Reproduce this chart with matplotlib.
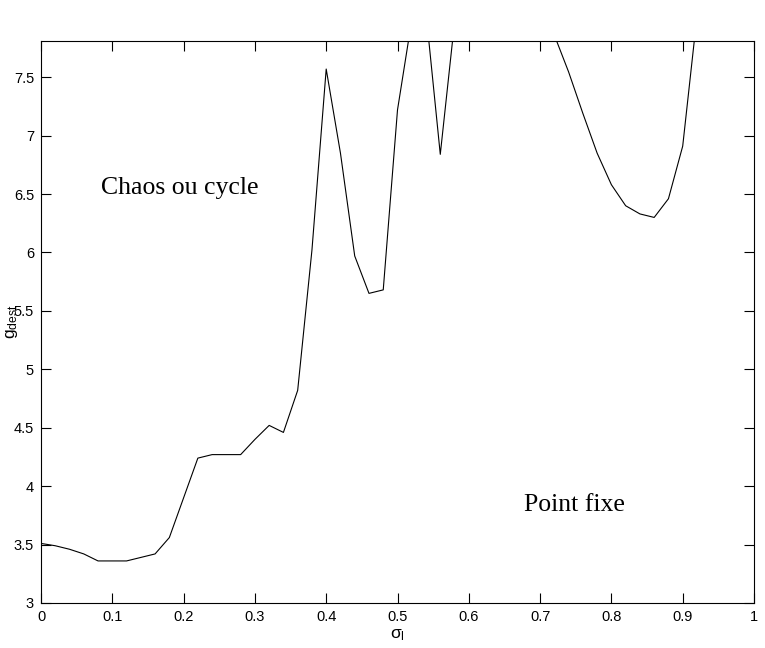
import matplotlib
matplotlib.use("Agg")
from matplotlib import pyplot as plt

plt.rcParams["font.family"] = ["Liberation Sans", "DejaVu Sans"]
plt.rcParams["mathtext.fontset"] = "custom"
plt.rcParams["mathtext.rm"] = "Liberation Sans"
plt.rcParams["mathtext.it"] = "Liberation Sans:italic"

# sigma_l values (step 0.02) and g_dest
sigma = [0.00, 0.02, 0.04, 0.06, 0.08, 0.10, 0.12, 0.14, 0.16, 0.18,
         0.20, 0.22, 0.24, 0.26, 0.28, 0.30, 0.32, 0.34, 0.36, 0.38,
         0.40, 0.42, 0.44, 0.46, 0.48, 0.50, 0.52, 0.54, 0.56, 0.58,
         0.60, 0.62, 0.64, 0.66, 0.68, 0.70, 0.72, 0.74, 0.76, 0.78,
         0.80, 0.82, 0.84, 0.86, 0.88, 0.90, 0.92]
g_dest = [3.51, 3.49, 3.46, 3.42, 3.36, 3.36, 3.36, 3.39, 3.42, 3.56,
          3.90, 4.24, 4.27, 4.27, 4.27, 4.40, 4.52, 4.46, 4.82, 6.02,
          7.57, 6.85, 5.97, 5.65, 5.68, 7.22, 7.99, 8.05, 6.84, 7.97,
          8.30, 8.40, 8.40, 8.30, 8.10, 8.00, 7.86, 7.545, 7.19, 6.85,
          6.58, 6.40, 6.33, 6.30, 6.46, 6.91, 8.02]

xticks = [0, 0.1, 0.2, 0.3, 0.4, 0.5, 0.6, 0.7, 0.8, 0.9, 1]
xtick_labels = ["0", "0.1", "0.2", "0.3", "0.4", "0.5", "0.6", "0.7", "0.8", "0.9", "1"]
yticks = [3, 3.5, 4, 4.5, 5, 5.5, 6, 6.5, 7, 7.5]
ytick_labels = ["3", "3.5", "4", "4.5", "5", "5.5", "6", "6.5", "7", "7.5"]

fig = plt.figure(figsize=(7.65, 6.48), dpi=100)
ax = fig.add_axes([41 / 765, 1 - 603 / 648, 713 / 765, 562 / 648])

ax.plot(sigma, g_dest, color="black", linewidth=0.8)

ax.set_xlim(0, 1)
ax.set_ylim(3, 7.81)
ax.set_xticks(xticks)
ax.set_xticklabels(xtick_labels)
ax.set_yticks(yticks)
ax.set_yticklabels(ytick_labels)
ax.tick_params(direction="in", length=7, width=0.8, labelsize=10.5,
               top=True, right=True, pad=5)
for s in ax.spines.values():
    s.set_linewidth(0.8)

ax.text(0.084, 6.50, "Chaos ou cycle", family="Liberation Serif", fontsize=18.5)
ax.text(0.677, 3.79, "Point fixe", family="Liberation Serif", fontsize=18.5)

ax.set_xlabel("σ$_\\mathrm{l}$", fontsize=12.5)
ax.xaxis.set_label_coords(0.5, -0.043)
ax.set_ylabel("g$_\\mathrm{dest}$", fontsize=12.5)
ax.yaxis.set_label_coords(-0.03, 0.5)

fig.savefig("out.png", dpi=100)
